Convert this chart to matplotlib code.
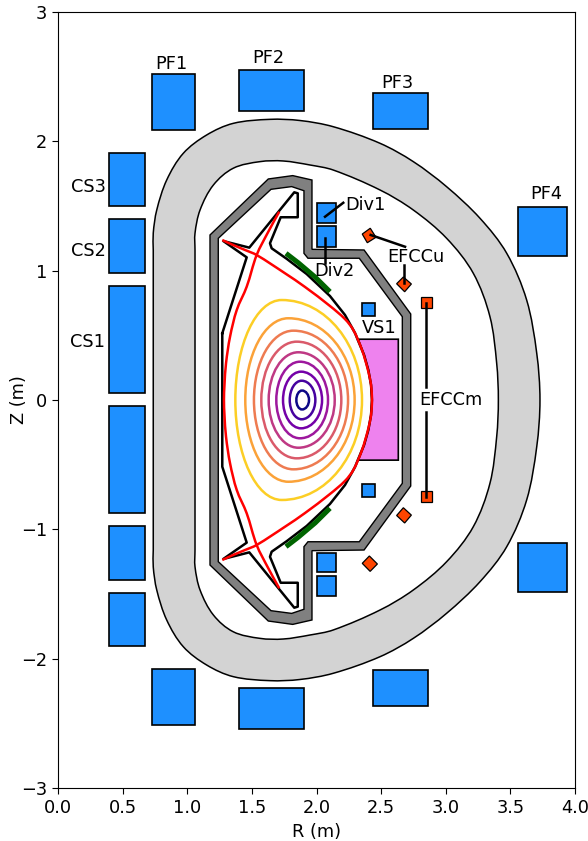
import numpy as np
import matplotlib
matplotlib.use("Agg")
import matplotlib.pyplot as plt
from matplotlib.path import Path
from matplotlib.patches import PathPatch, Rectangle, Polygon

# ---- data (R, Z in metres) ----
coil_rmin = [.395, .395, .395, .395, .395, .395, .727, .727, 1.40, 1.40, 2.437, 2.437, 3.56, 3.56,
             2.0, 2.0, 2.0, 2.0, 2.35, 2.35]
coil_rmax = [.673, .673, .673, .673, .673, .673, 1.06, 1.06, 1.90, 1.90, 2.863, 2.863, 3.94, 3.94,
             2.15, 2.15, 2.15, 2.15, 2.45, 2.45]
coil_zmin = [1.50, .98, .055, -.875, -1.39, -1.90, 2.09, -2.51, 2.235, -2.544, 2.095, -2.366, 1.113, -1.485,
             1.37, 1.185, -1.33, -1.515, .65, -.75]
coil_zmax = [1.91, 1.40, .88, -.046, -.975, -1.49, 2.52, -2.08, 2.55, -2.227, 2.374, -2.09, 1.49, -1.106,
             1.52, 1.345, -1.185, -1.36, .75, -.65]

efcc_m_r = [2.81, 2.81]
efcc_m_r2 = [2.89, 2.89]
efcc_m_z = [.71, -.79]
efcc_m_z2 = [.80, -.70]

efcc_u1 = [(2.416, 1.328), (2.460, 1.258), (2.393, 1.216), (2.354, 1.283)]
efcc_u2 = [(2.672, .951), (2.734, .897), (2.682, .837), (2.620, .899)]
efcc_l1 = [(2.409, -1.206), (2.471, -1.268), (2.415, -1.325), (2.354, -1.263)]
efcc_l2 = [(2.672, -.833), (2.734, -.890), (2.682, -.951), (2.620, -.893)]

cryo_outer_r = [.737, .737, .764, .841, .969, 1.150, 1.356, 1.640, 1.872, 2.130, 2.491, 2.749, 3.007, 3.265, 3.472, 3.626, 3.704, 3.729]
cryo_outer_z = [1.160, 1.291, 1.469, 1.701, 1.907, 2.049, 2.139, 2.170, 2.161, 2.113, 1.985, 1.843, 1.649, 1.405, 1.134, .773, .361, 0]
cryo_inner_r = [1.060, 1.060, 1.099, 1.202, 1.356, 1.563, 1.743, 1.950, 2.130, 2.491, 2.749, 3.007, 3.213, 3.342, 3.394, 3.407]
cryo_inner_z = [1.160, 1.289, 1.469, 1.662, 1.792, 1.843, 1.848, 1.817, 1.778, 1.624, 1.469, 1.250, .980, .644, .284, 0]

wall_outer_r = [1.176, 1.627, 1.816, 1.965, 1.965, 2.368, 2.729]
wall_outer_z = [1.276, 1.709, 1.735, 1.701, 1.165, 1.160, .665]
wall_inner_r = [1.240, 1.648, 1.808, 1.903, 1.903, 1.934, 2.331, 2.664]
wall_inner_z = [1.250, 1.629, 1.650, 1.618, 1.134, 1.096, 1.096, .644]

limiter_r = [1.271, 1.460, 1.279, 1.480, 1.828, 1.855, 1.855, 1.723, 1.640, 1.653, 1.769, 1.924, 2.104, 2.220, 2.298, 2.323, 2.368, 2.401, 2.422, 2.429]
limiter_z = [.516, 1.103, 1.229, 1.178, 1.606, 1.598, 1.413, 1.413, 1.212, 1.173, 1.092, .974, .804, .658, .518, .456, .348, .232, .116, 0]

vs_plate_r = [2.323, 2.633, 2.633, 2.323, 2.368, 2.401, 2.422, 2.429, 2.422, 2.401, 2.368]
vs_plate_z = [.47, .47, -.465, -.465, -.348, -.232, -.116, 0, .116, .232, .348]

green_r = [1.764, 1.860, 1.990, 2.104]
green_z = [1.134, 1.060, .950, .837]

sep_right_r = [1.271, 1.356, 1.447, 1.537, 1.756, 1.911, 2.104, 2.220, 2.285, 2.352, 2.398, 2.422, 2.429]
sep_right_z = [1.237, 1.198, 1.160, 1.121, .980, .874, .727, .626, .541, .387, .232, .116, 0]
sep_left_r = [1.712, 1.627, 1.537, 1.460, 1.383, 1.331, 1.300, 1.288, 1.284]
sep_left_z = [1.456, 1.301, 1.121, .876, .696, .489, .284, .116, 0]

# flux surfaces, core to edge
flux_rin = [1.844, 1.793, 1.741, 1.689, 1.630, 1.573, 1.516, 1.449, 1.372]
flux_rout = [1.942, 1.991, 2.043, 2.089, 2.141, 2.192, 2.244, 2.295, 2.352]
flux_rtop = [1.888, 1.885, 1.880, 1.872, 1.859, 1.847, 1.821, 1.782, 1.731]
flux_ztop = [.073, .149, .219, .296, .369, .451, .536, .632, .773]

label_text = ["PF1", "PF2", "PF3", "PF4", "CS3", "CS2", "CS1", "Div1", "Div2", "EFCCu", "VS1", "EFCCm"]
label_r = [.874, 1.625, 2.623, 3.776, .232, .232, .232, 2.375, 2.135, 2.77, 2.484, 3.04]
label_z = [2.598, 2.644, 2.451, 1.593, 1.647, 1.152, .448, 1.508, .997, 1.106, .557, 0]

leader_r = [(2.066, 2.207), (2.069, 2.069), (2.419, 2.685), (2.677, 2.677), (2.85, 2.85), (2.85, 2.85)]
leader_z = [(1.417, 1.525), (1.25, 1.057), (1.276, 1.185), (1.044, .902), (.75, .103), (-.09, -.75)]

x_ticks = [0, .5, 1, 1.5, 2, 2.5, 3, 3.5, 4]
y_ticks = [-3, -2, -1, 0, 1, 2, 3]

# ---- helpers ----
def mirrored(r, z):
    r, z = list(r), list(z)
    if z[-1] == 0:
        return r + r[-2::-1], z + [-v for v in z[-2::-1]]
    return r + r[::-1], z + [-v for v in z[::-1]]

def smooth(r, z, closed=False):
    """Bezier curve through the read points (drawn by matplotlib's Path)."""
    p = np.column_stack([r, z]).astype(float)
    n = len(p)
    v, c = [tuple(p[0])], [Path.MOVETO]
    segs = n if closed else n - 1
    for i in range(segs):
        a = p[(i - 1) % n] if (closed or i > 0) else p[i]
        b = p[i]
        d = p[(i + 1) % n]
        e = p[(i + 2) % n] if (closed or i + 2 < n) else d
        seg = np.linalg.norm(d - b)
        t1 = (d - a)
        t2 = (e - b)
        t1 = t1 / max(np.linalg.norm(t1), 1e-9) * seg / 3
        t2 = t2 / max(np.linalg.norm(t2), 1e-9) * seg / 3
        v += [tuple(b + t1), tuple(d - t2), tuple(d)]
        c += [Path.CURVE4] * 3
    return v, c

def flux_path(ri, ro, rt, zt):
    k = 0.5523
    v = [(ri, 0),
         (ri, k * zt), (rt - k * (rt - ri), zt), (rt, zt),
         (rt + k * (ro - rt), zt), (ro, k * zt), (ro, 0),
         (ro, -k * zt), (rt + k * (ro - rt), -zt), (rt, -zt),
         (rt - k * (rt - ri), -zt), (ri, -k * zt), (ri, 0)]
    c = [Path.MOVETO] + [Path.CURVE4] * 12
    return Path(v, c)

# ---- figure ----
fig = plt.figure(figsize=(5.88, 8.41), dpi=100)
ax = fig.add_axes([58 / 588, 53 / 841, 517 / 588, 776 / 841])
ax.set_xlim(0, 4)
ax.set_ylim(-3, 3)
ax.set_xticks(x_ticks)
ax.set_yticks(y_ticks)
ax.tick_params(labelsize=12.8, length=4, pad=4)
ax.set_xlabel("R (m)", fontsize=12.8, labelpad=4)
ax.set_ylabel("Z (m)", fontsize=12.8, labelpad=-5)

# cryostat band
ro, zo = mirrored(cryo_outer_r, cryo_outer_z)
ri, zi = mirrored(cryo_inner_r, cryo_inner_z)
v1, c1 = smooth(ro, zo, closed=True)
v2, c2 = smooth(ri[::-1], zi[::-1], closed=True)
ax.add_patch(PathPatch(Path(v1 + v2, c1 + c2), facecolor="lightgray", edgecolor="black", lw=1.1, zorder=1))

# vessel wall
ro, zo = mirrored(wall_outer_r, wall_outer_z)
ri, zi = mirrored(wall_inner_r, wall_inner_z)
v = list(zip(ro, zo)) + [(ro[0], zo[0])] + list(zip(ri[::-1], zi[::-1])) + [(ri[-1], zi[-1])]
c = [Path.MOVETO] + [Path.LINETO] * (len(ro) - 1) + [Path.CLOSEPOLY] + [Path.MOVETO] + [Path.LINETO] * (len(ri) - 1) + [Path.CLOSEPOLY]
ax.add_patch(PathPatch(Path(v, c), facecolor="gray", edgecolor="black", lw=1.0, zorder=2))

# coils
for r0, r1, z0, z1 in zip(coil_rmin, coil_rmax, coil_zmin, coil_zmax):
    ax.add_patch(Rectangle((r0, z0), r1 - r0, z1 - z0, facecolor="dodgerblue", edgecolor="black", lw=1.2, zorder=3))
for r0, r1, z0, z1 in zip(efcc_m_r, efcc_m_r2, efcc_m_z, efcc_m_z2):
    ax.add_patch(Rectangle((r0, z0), r1 - r0, z1 - z0, facecolor="orangered", edgecolor="black", lw=0.9, zorder=3))
for poly in (efcc_u1, efcc_u2, efcc_l1, efcc_l2):
    ax.add_patch(Polygon(poly, closed=True, facecolor="orangered", edgecolor="black", lw=0.9, zorder=3))

# passive plate
ax.add_patch(Polygon(list(zip(vs_plate_r, vs_plate_z)), closed=True, facecolor="violet", edgecolor="black", lw=1.2, zorder=3))

# limiter
lr, lz = mirrored(limiter_r, limiter_z)
ax.plot(lr + [lr[0]], lz + [lz[0]], color="black", lw=1.8, solid_joinstyle="round", zorder=4)

# green tiles
for sign in (1, -1):
    ax.plot(green_r, [sign * v for v in green_z], color="darkgreen", lw=3.6, solid_capstyle="butt", zorder=5)

# flux surfaces
colors = plt.cm.plasma(np.linspace(0, 0.9, len(flux_rin)))
for a, b, t, h, col in zip(flux_rin, flux_rout, flux_rtop, flux_ztop, colors):
    ax.add_patch(PathPatch(flux_path(a, b, t, h), facecolor="none", edgecolor=col, lw=1.8, zorder=6))

# separatrix
for br, bz in ((sep_right_r, sep_right_z), (sep_left_r, sep_left_z)):
    mr, mz = mirrored(br, bz)
    v, c = smooth(mr, mz)
    ax.add_patch(PathPatch(Path(v, c), facecolor="none", edgecolor="red", lw=1.8, zorder=7))

# leaders and labels
for lrr, lzz in zip(leader_r, leader_z):
    ax.plot(lrr, lzz, color="black", lw=1.8, zorder=8)
for t, r, z in zip(label_text, label_r, label_z):
    ax.text(r, z, t, fontsize=12.8, ha="center", va="center", zorder=9)

fig.savefig("out.png", dpi=100)
